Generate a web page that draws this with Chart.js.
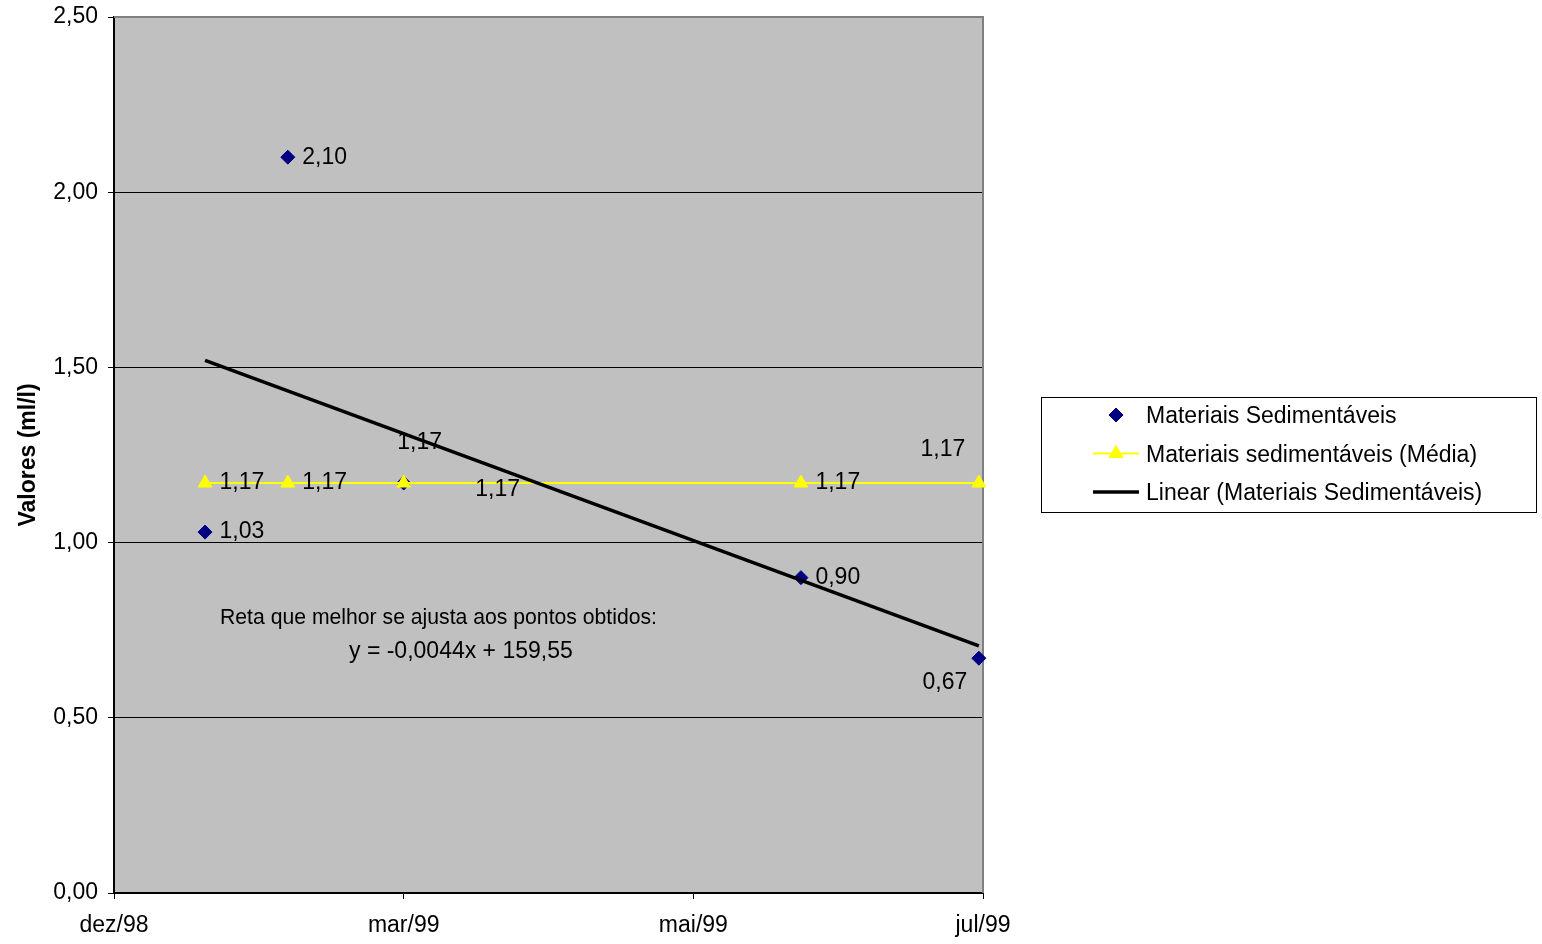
<!DOCTYPE html>
<html lang="pt">
<head>
<meta charset="utf-8">
<title>Materiais Sedimentáveis</title>
<script src="https://cdn.jsdelivr.net/npm/chart.js@4.4.1/dist/chart.umd.min.js"></script>
<style>
  html, body { margin: 0; padding: 0; background: #ffffff; }
  #wrap { width: 1542px; height: 944px; }
</style>
</head>
<body>
<div id="wrap"><canvas id="chart" width="1542" height="944"></canvas></div>
<script>
// Sampling dates and measured settleable solids (ml/l)
const sampleDates = ['1999-01-13', '1999-02-02', '1999-03-02', '1999-06-06', '1999-07-19'];
const sedimentValues = [1.03, 2.10, 1.17, 0.90, 0.67];

// Period average, repeated on every sampling date
const meanValues = [1.17, 1.17, 1.17, 1.17, 1.17];

// Linear trend at the first and last sampling dates
const trendDates = ['1999-01-13', '1999-07-19'];
const trendValues = [1.52, 0.705];

// Horizontal axis ticks
const xTickDates = ['1998-12-22', '1999-03-02', '1999-05-11', '1999-07-20'];
const xTickLabels = ['dez/98', 'mar/99', 'mai/99', 'jul/99'];

// Vertical axis ticks
const yTickValues = [0, 0.5, 1.0, 1.5, 2.0, 2.5];

const seriesNames = [
  'Materiais Sedimentáveis',
  'Materiais sedimentáveis (Média)',
  'Linear (Materiais Sedimentáveis)'
];
const yAxisTitle = 'Valores (ml/l)';
const equationLines = [
  'Reta que melhor se ajusta aos pontos obtidos:',
  'y = -0,0044x + 159,55'
];

// ---- helpers ----
const FONT_FAMILY = '"Liberation Sans", Arial, Helvetica, sans-serif';
const FONT_SIZE = 23;
const toDay = s => {
  const [y, m, d] = s.split('-').map(Number);
  return Date.UTC(y, m - 1, d) / 86400000;
};
const fmt = v => Number(v).toFixed(2).replace('.', ',');
const points = (dates, values) => dates.map((d, i) => ({ x: toDay(d), y: values[i] }));

// Value label placement per point: offset from the marker and text alignment
const sedimentLabelPlacement = [
  { dx: 14.5, dy: 0, align: 'left' },
  { dx: 14.5, dy: 0, align: 'left' },
  { dx: 94, dy: 7, align: 'center' },
  { dx: 14.5, dy: 0, align: 'left' },
  { dx: -34, dy: 24.5, align: 'center' }
];
const meanLabelPlacement = [
  { dx: 14.5, dy: 0, align: 'left' },
  { dx: 14.5, dy: 0, align: 'left' },
  { dx: 16, dy: -40, align: 'center' },
  { dx: 14.5, dy: 0, align: 'left' },
  { dx: -36, dy: -33, align: 'center' }
];

// Gray plot background and frame
const plotBackground = {
  id: 'plotBackground',
  beforeDraw(chart) {
    const { ctx, chartArea: a } = chart;
    ctx.save();
    ctx.fillStyle = '#C0C0C0';
    ctx.fillRect(a.left, a.top, a.right - a.left, a.bottom - a.top);
    ctx.restore();
  },
  beforeDatasetsDraw(chart) {
    const { ctx, chartArea: a } = chart;
    ctx.save();
    ctx.strokeStyle = '#808080';
    ctx.lineWidth = 2;
    ctx.beginPath();
    ctx.moveTo(a.left, a.top);
    ctx.lineTo(a.right, a.top);
    ctx.lineTo(a.right, a.bottom);
    ctx.stroke();
    ctx.restore();
  }
};

// Value labels and regression note
const valueLabels = {
  id: 'valueLabels',
  afterDatasetsDraw(chart) {
    const { ctx, chartArea: a } = chart;
    ctx.save();
    ctx.font = FONT_SIZE + 'px ' + FONT_FAMILY;
    ctx.fillStyle = '#000000';
    ctx.textBaseline = 'middle';
    const draw = (dsIndex, placement) => {
      const meta = chart.getDatasetMeta(dsIndex);
      const values = chart.data.datasets[dsIndex].data;
      meta.data.forEach((el, j) => {
        const p = placement[j];
        ctx.textAlign = p.align;
        ctx.fillText(fmt(values[j].y), el.x + p.dx, el.y + p.dy);
      });
    };
    draw(0, sedimentLabelPlacement);
    draw(1, meanLabelPlacement);

    ctx.textAlign = 'left';
    ctx.font = '22px ' + FONT_FAMILY;
    ctx.fillText(equationLines[0], a.left + 106, a.top + 601, 437);
    ctx.font = FONT_SIZE + 'px ' + FONT_FAMILY;
    ctx.fillText(equationLines[1], a.left + 235, a.top + 635);
    ctx.restore();
  }
};

// Boxed legend to the right of the plot
const boxedLegend = {
  id: 'boxedLegend',
  afterDraw(chart) {
    const { ctx } = chart;
    const box = { x: 1041, y: 397, w: 495, h: 115 };
    ctx.save();
    ctx.strokeStyle = '#000000';
    ctx.lineWidth = 1;
    ctx.strokeRect(box.x + 0.5, box.y + 0.5, box.w, box.h);
    ctx.font = FONT_SIZE + 'px ' + FONT_FAMILY;
    ctx.textBaseline = 'middle';
    ctx.textAlign = 'left';
    const rows = [417, 455.5, 494];
    const symX = 1116, lineHalf = 23, textX = 1146;
    chart.data.datasets.forEach((ds, i) => {
      const y = rows[i];
      const my = y - 2;
      if (ds.showLine !== false) {
        ctx.strokeStyle = ds.borderColor;
        ctx.lineWidth = ds.borderWidth;
        ctx.beginPath();
        ctx.moveTo(symX - lineHalf, my);
        ctx.lineTo(symX + lineHalf, my);
        ctx.stroke();
      }
      if (ds.pointRadius > 0) {
        ctx.fillStyle = ds.backgroundColor;
        ctx.strokeStyle = ds.backgroundColor;
        ctx.lineWidth = 1;
        Chart.helpers.drawPoint(ctx, {
          pointStyle: ds.pointStyle,
          radius: ds.pointRadius,
          rotation: 0,
          borderWidth: 1
        }, symX, my);
      }
      ctx.fillStyle = '#000000';
      ctx.fillText(ds.label, textX, y);
    });
    ctx.restore();
  }
};

const tickFont = { family: FONT_FAMILY, size: FONT_SIZE };

new Chart(document.getElementById('chart'), {
  type: 'line',
  data: {
    datasets: [
      {
        label: seriesNames[0],
        data: points(sampleDates, sedimentValues),
        showLine: false,
        pointStyle: 'rectRot',
        pointRadius: 7,
        pointBorderWidth: 1,
        backgroundColor: '#000080',
        borderColor: '#000080',
        order: 3,
        clip: false
      },
      {
        label: seriesNames[1],
        data: points(sampleDates, meanValues),
        borderColor: '#FFFF00',
        backgroundColor: '#FFFF00',
        borderWidth: 2,
        pointStyle: 'triangle',
        pointRadius: 8,
        pointBorderWidth: 1,
        tension: 0,
        order: 2,
        clip: false
      },
      {
        label: seriesNames[2],
        data: points(trendDates, trendValues),
        borderColor: '#000000',
        backgroundColor: '#000000',
        borderWidth: 3.5,
        pointRadius: 0,
        tension: 0,
        order: 1,
        clip: false
      }
    ]
  },
  options: {
    responsive: false,
    animation: false,
    events: [],
    layout: { padding: { top: 17, right: 559, left: 0, bottom: 0 } },
    plugins: {
      legend: { display: false },
      tooltip: { enabled: false },
      title: { display: false }
    },
    scales: {
      x: {
        type: 'linear',
        min: toDay(xTickDates[0]),
        max: toDay(xTickDates[xTickDates.length - 1]),
        afterBuildTicks: scale => { scale.ticks = xTickDates.map(d => ({ value: toDay(d) })); },
        afterFit: scale => {
          scale.height = 51;
          scale.paddingLeft = 0;
          scale.paddingRight = 0;
        },
        ticks: {
          callback: (v, i) => xTickLabels[i],
          autoSkip: false,
          maxRotation: 0,
          minRotation: 0,
          font: tickFont,
          color: '#000000',
          padding: 13
        },
        grid: {
          drawOnChartArea: false,
          drawTicks: true,
          tickLength: 6,
          color: '#000000',
          tickColor: '#000000'
        },
        border: { display: true, color: '#000000', width: 2 }
      },
      y: {
        min: 0,
        max: 2.5,
        afterBuildTicks: scale => { scale.ticks = yTickValues.map(v => ({ value: v })); },
        afterFit: scale => {
          scale.width = 114;
          scale.paddingTop = 0;
          scale.paddingBottom = 0;
        },
        ticks: {
          callback: v => fmt(v),
          font: tickFont,
          color: '#000000',
          padding: 10
        },
        grid: {
          color: c => (c.tick && c.tick.value === 2.5 ? 'rgba(0,0,0,0)' : '#000000'),
          tickColor: '#000000',
          lineWidth: 1,
          drawTicks: true,
          tickLength: 6
        },
        border: { display: true, color: '#000000', width: 2 },
        title: {
          display: true,
          text: yAxisTitle,
          color: '#000000',
          font: { family: FONT_FAMILY, size: FONT_SIZE, weight: 'bold' },
          padding: { top: 15, bottom: 0 }
        }
      }
    }
  },
  plugins: [plotBackground, valueLabels, boxedLegend]
});
</script>
</body>
</html>
